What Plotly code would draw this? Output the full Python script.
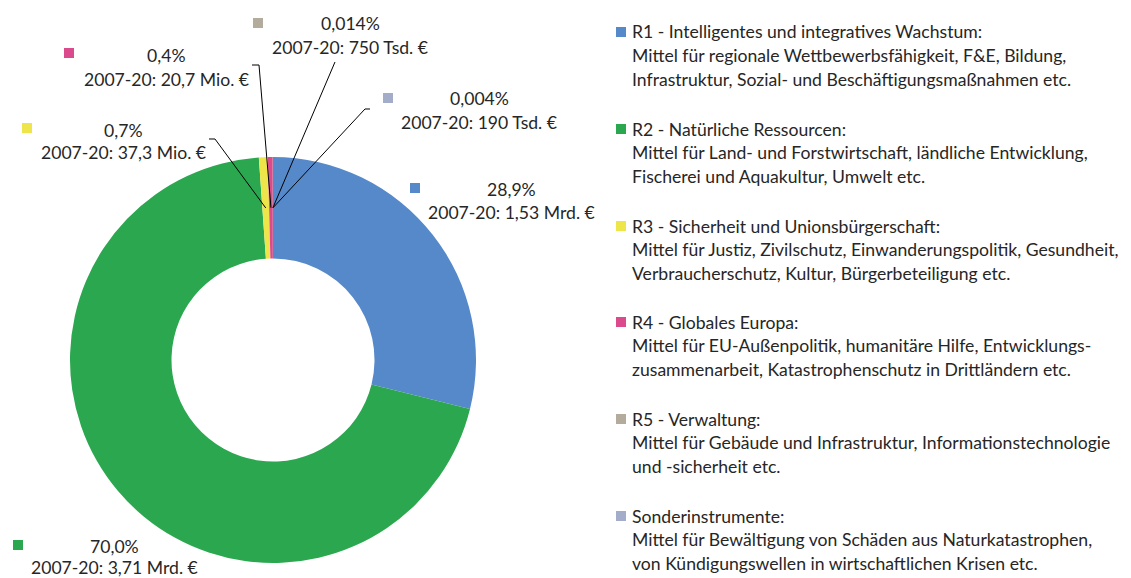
import math
import plotly.graph_objects as go

# ---------------- data ----------------
categories = [
    "R1 - Intelligentes und integratives Wachstum",
    "R2 - Natürliche Ressourcen",
    "R3 - Sicherheit und Unionsbürgerschaft",
    "R4 - Globales Europa",
    "R5 - Verwaltung",
    "Sonderinstrumente",
]
amounts_mio_eur = [1530, 3710, 37.3, 20.7, 0.75, 0.19]
pct_labels = ["28,9%", "70,0%", "0,7%", "0,4%", "0,014%", "0,004%"]
amount_labels = [
    "2007-20: 1,53 Mrd. €",
    "2007-20: 3,71 Mrd. €",
    "2007-20: 37,3 Mio. €",
    "2007-20: 20,7 Mio. €",
    "2007-20: 750 Tsd. €",
    "2007-20: 190 Tsd. €",
]
legend_titles = [
    "R1 - Intelligentes und integratives Wachstum:",
    "R2 - Natürliche Ressourcen:",
    "R3 - Sicherheit und Unionsbürgerschaft:",
    "R4 - Globales Europa:",
    "R5 - Verwaltung:",
    "Sonderinstrumente:",
]
legend_desc = [
    ["Mittel für regionale Wettbewerbsfähigkeit, F&E, Bildung,",
     "Infrastruktur, Sozial- und Beschäftigungsmaßnahmen etc."],
    ["Mittel für Land- und Forstwirtschaft, ländliche Entwicklung,",
     "Fischerei und Aquakultur, Umwelt etc."],
    ["Mittel für Justiz, Zivilschutz, Einwanderungspolitik, Gesundheit,",
     "Verbraucherschutz, Kultur, Bürgerbeteiligung etc."],
    ["Mittel für EU-Außenpolitik, humanitäre Hilfe, Entwicklungs-",
     "zusammenarbeit, Katastrophenschutz in Drittländern etc."],
    ["Mittel für Gebäude und Infrastruktur, Informationstechnologie",
     "und -sicherheit etc."],
    ["Mittel für Bewältigung von Schäden aus Naturkatastrophen,",
     "von Kündigungswellen in wirtschaftlichen Krisen etc."],
]
colors = ["#5689CA", "#2BA84F", "#EEE54B", "#DA4A8C", "#B3AB9B", "#A3ADC9"]

# ---------------- layout constants (pixels, page coordinates) ----------------
W, H = 1131, 578
OFF = 8  # page body margin
CX, CY, R = 273, 360, 203
HOLE = 0.5
FONT = "Lato, 'Open Sans', sans-serif"
FS = 17.6
TXT = "#262626"

def px(x):
    return (x - OFF) / W

def py(y):
    return 1 - (y - OFF) / H

# data label placement: (text center x, first line y, square x, square y, line gap)
label_pos = [
    (511, 189, 415, 188, 23),
    (114, 546, 18, 545, 21),
    (123, 130, 27, 128, 23),
    (166, 56, 69, 53, 23),
    (350, 24, 258, 23, 23),
    (479, 99, 388, 98, 23),
]
# leader lines: start points (elbow) per slice, None = no line
leader = [
    None,
    None,
    [(209, 139), (215, 139)],
    [(252, 65), (259, 65)],
    [(335, 62)],
    [(370, 109), (365, 109)],
]

legend_y0 = [32, 129, 226, 322, 419, 516]
LEG_SQ_X = 621
LEG_TX_X = 630

fig = go.Figure(
    go.Pie(
        labels=categories,
        values=amounts_mio_eur,
        hole=HOLE,
        sort=False,
        direction="clockwise",
        rotation=0,
        marker=dict(colors=colors, line=dict(width=0)),
        textinfo="none",
        showlegend=False,
        domain=dict(x=[px(CX - R), px(CX + R)], y=[py(CY + R), py(CY - R)]),
    )
)

annotations = []
shapes = []

total = sum(amounts_mio_eur)
cum = 0.0
r_mid = R * (1 + HOLE) / 2
for i in range(len(categories)):
    v = amounts_mio_eur[i]
    mid = (cum + v / 2) / total * 2 * math.pi
    cum += v
    ex = CX + r_mid * math.sin(mid)
    ey = CY - r_mid * math.cos(mid)

    tx, ty, sx, sy, gap = label_pos[i]
    annotations.append(dict(x=px(tx), y=py(ty), xref="paper", yref="paper",
                            text=pct_labels[i], showarrow=False,
                            xanchor="center", yanchor="middle",
                            font=dict(family=FONT, size=FS, color=TXT)))
    annotations.append(dict(x=px(tx), y=py(ty + gap), xref="paper", yref="paper",
                            text=amount_labels[i], showarrow=False,
                            xanchor="center", yanchor="middle",
                            font=dict(family=FONT, size=FS, color=TXT)))
    shapes.append(dict(type="rect", xref="paper", yref="paper",
                       x0=px(sx - 5), x1=px(sx + 5), y0=py(sy + 5), y1=py(sy - 5),
                       fillcolor=colors[i], line=dict(width=0)))
    if leader[i]:
        pts = leader[i] + [(ex, ey)]
        path = "M " + " L ".join(f"{px(a):.5f},{py(b):.5f}" for a, b in pts)
        shapes.append(dict(type="path", xref="paper", yref="paper", path=path,
                           line=dict(color="black", width=1)))

    # custom legend
    ly = legend_y0[i]
    shapes.append(dict(type="rect", xref="paper", yref="paper",
                       x0=px(LEG_SQ_X - 5), x1=px(LEG_SQ_X + 5),
                       y0=py(ly + 5), y1=py(ly - 5),
                       fillcolor=colors[i], line=dict(width=0)))
    lines = [legend_titles[i]] + legend_desc[i]
    for k, t in enumerate(lines):
        annotations.append(dict(x=px(LEG_TX_X), y=py(ly + k * 23.5), xref="paper", yref="paper",
                                text=t, showarrow=False, xanchor="left", yanchor="middle",
                                font=dict(family=FONT, size=FS, color=TXT)))

fig.update_layout(
    width=W, height=H,
    margin=dict(l=0, r=0, t=0, b=0),
    paper_bgcolor="white", plot_bgcolor="white",
    annotations=annotations, shapes=shapes,
    showlegend=False,
)

fig.write_html("out.html")
